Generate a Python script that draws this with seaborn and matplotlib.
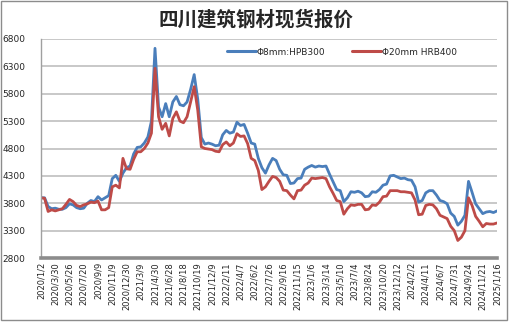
import numpy as np
import pandas as pd
import matplotlib
matplotlib.use("Agg")
import matplotlib.pyplot as plt
from matplotlib.patches import Rectangle
import seaborn as sns

# Price series (yuan/ton), four samples per tick interval
hpb300 = [
    3900, 3900, 3740, 3700, 3710, 3690, 3690, 3720,
    3790, 3770, 3720, 3700, 3710, 3800, 3850, 3830,
    3920, 3860, 3900, 3940, 4250, 4310, 4200, 4350,
    4450, 4480, 4700, 4820, 4830, 4900, 5010, 5300,
    6630, 5560, 5380, 5620, 5380, 5650, 5750, 5600,
    5580, 5650, 5880, 6150, 5700, 5000, 4880, 4900,
    4880, 4850, 4860, 5050, 5130, 5080, 5100, 5280,
    5220, 5240, 5080, 4900, 4880, 4620, 4450, 4350,
    4500, 4620, 4580, 4420, 4320, 4310, 4160, 4170,
    4250, 4260, 4420, 4460, 4490, 4460, 4480, 4470,
    4480, 4330, 4190, 4050, 4030, 3830, 3900, 4010,
    4000, 4020, 3990, 3920, 3930, 4010, 4000, 4050,
    4130, 4150, 4300, 4310, 4280, 4250, 4260, 4230,
    4220, 4100, 3820, 3850, 3990, 4030, 4030, 3950,
    3850, 3830, 3790, 3620, 3560, 3400, 3470, 3580,
    4200, 4000, 3790, 3700, 3610, 3640, 3650, 3630,
    3660,
]
hrb400 = [
    3900, 3890, 3650, 3680, 3660, 3680, 3700, 3780,
    3870, 3830, 3760, 3740, 3770, 3790, 3820, 3810,
    3840, 3680, 3680, 3720, 4100, 4130, 4080, 4620,
    4430, 4420, 4600, 4740, 4740, 4800, 4900, 5080,
    6264, 5380, 5150, 5260, 5030, 5350, 5470, 5300,
    5270, 5380, 5650, 5930, 5500, 4830, 4800, 4790,
    4780, 4750, 4740, 4870, 4920, 4850, 4900, 5070,
    5020, 5030, 4890, 4620, 4580, 4400, 4050, 4100,
    4200, 4290, 4270, 4200, 4040, 4030, 3950, 3880,
    4030, 4040, 4130, 4170, 4260, 4250, 4260, 4270,
    4250, 4100, 3980, 3850, 3830, 3600, 3700, 3770,
    3760, 3780, 3780, 3680, 3690, 3770, 3760, 3820,
    3920, 3930, 4030, 4030, 4030, 4010, 4010, 4000,
    3990, 3860, 3590, 3600, 3760, 3780, 3770, 3700,
    3580, 3550, 3520, 3380, 3300, 3120, 3180, 3300,
    3900, 3760, 3560, 3470, 3370, 3430, 3420, 3420,
    3440,
]
date_labels = [
    "2020/1/2", "2020/3/30", "2020/5/26", "2020/7/20", "2020/9/9",
    "2020/11/9", "2020/12/30", "2021/3/9", "2021/4/30", "2021/6/28",
    "2021/8/18", "2021/10/19", "2021/12/9", "2022/2/11", "2022/4/7",
    "2022/6/2", "2022/7/26", "2022/9/16", "2022/11/15", "2023/1/6",
    "2023/3/14", "2023/5/10", "2023/7/4", "2023/8/24", "2023/10/20",
    "2023/12/12", "2024/2/2", "2024/4/11", "2024/6/7", "2024/7/31",
    "2024/9/24", "2024/11/21", "2025/1/16",
]
series_names = ["Φ8mm:HPB300", "Φ20mm HRB400"]
colors = ["#4A7EBB", "#BE4B48"]

step = 4
idx = np.arange(len(hpb300))
df = pd.concat([
    pd.DataFrame({"i": idx, "price": hpb300, "series": series_names[0]}),
    pd.DataFrame({"i": idx, "price": hrb400, "series": series_names[1]}),
])

sns.set_theme(style="white")
plt.rcParams["font.family"] = ["DejaVu Sans"]

fig = plt.figure(figsize=(5.10, 3.24), dpi=100)
fig.patch.set_facecolor("white")
ax = fig.add_axes([41 / 510, 1 - 258 / 324, 456 / 510, 219 / 324])

sns.lineplot(data=df, x="i", y="price", hue="series", palette=colors,
             linewidth=2.0, ax=ax, legend=True)

ax.set_xlim(0, len(hpb300) - 1)
ax.set_ylim(2800, 6800)
ax.set_yticks(np.arange(2800, 6801, 500))
ax.set_yticklabels([str(v) for v in range(2800, 6801, 500)], fontsize=6.5)
ax.set_xticks(idx[::step])
ax.set_xticklabels(date_labels, rotation=90, fontsize=6)
ax.set_xlabel("")
ax.set_ylabel("")

ax.grid(axis="y", color="#BFBFBF", linewidth=1.2)
ax.grid(axis="x", visible=False)
ax.set_axisbelow(True)
for s in ("top", "right"):
    ax.spines[s].set_visible(False)
ax.spines["left"].set_color("#A0A0A0")
ax.spines["left"].set_linewidth(1.0)
ax.spines["bottom"].set_color("#8C8C8C")
ax.spines["bottom"].set_linewidth(2.6)
ax.tick_params(axis="y", length=3, width=0.8, color="#A0A0A0", pad=8)
ax.tick_params(axis="x", length=0, pad=3)

leg = ax.legend(loc="center", bbox_to_anchor=(0.66, 0.94), ncol=2,
                frameon=False, fontsize=6.5, handlelength=3.2,
                handletextpad=0.1, columnspacing=3.0)
for line in leg.get_lines():
    line.set_linewidth(2.2)

fig.text(0.502, 0.94, "四川建筑钢材现货报价", ha="center", va="center",
         fontsize=14, fontweight="bold", family=["Noto Sans CJK SC", "DejaVu Sans"])

fig.patches.append(Rectangle((1 / 510, 4 / 324), 506 / 510, 319 / 324,
                             transform=fig.transFigure, fill=False,
                             edgecolor="#8C8C8C", linewidth=1.0))

fig.savefig("out.png", dpi=100)
